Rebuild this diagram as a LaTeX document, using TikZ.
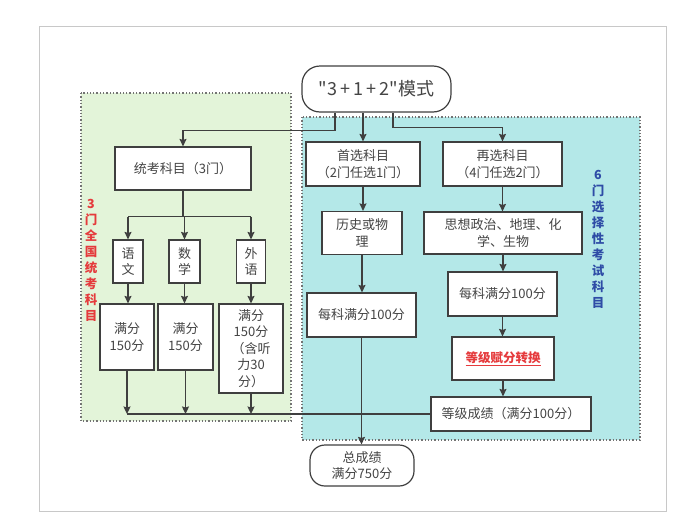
\documentclass[tikz,border=0pt]{standalone}
\usepackage{fontspec}
\setmainfont{Noto Sans CJK SC}
\newfontfamily\plainqfont{Noto Sans CJK SC}
\usetikzlibrary{arrows.meta}
\usetikzlibrary{calc}

\definecolor{linegray}{HTML}{3F3F3F}
\definecolor{txtgray}{HTML}{444444}
\definecolor{framegray}{HTML}{C8C8C8}
\definecolor{greenbg}{HTML}{E3F4D9}
\definecolor{cyanbg}{HTML}{B4E8E8}
\definecolor{redtxt}{HTML}{E53A3C}
\definecolor{bluetxt}{HTML}{2E4CA6}

\begin{document}
\begin{tikzpicture}[x=1pt, y=-1pt, >={Stealth[length=7.5pt, width=7pt, inset=1pt]},
  box/.style={draw=linegray, line width=1.2pt, fill=white, inner sep=0pt, align=center,
    text=txtgray, font=\fontsize{13}{16.5}\selectfont},
  conn/.style={draw=linegray, line width=1.3pt},
  region/.style={draw=gray!90!black, line width=1.3pt, dotted}]
\useasboundingbox (0,0) rectangle (695,525);
\draw[framegray, line width=0.9pt] (39,26) rectangle (666,511);
% the two regions
\fill[greenbg] (81,93) rectangle (291,421);
\draw[region] (81,93) rectangle (291,421);
\fill[cyanbg] (302,117) rectangle (640,440);
\draw[region] (302,117) rectangle (640,440);
\node[text=redtxt, font=\bfseries\fontsize{12.5}{16}\selectfont, align=center] (lbl3) at (91,260)
  {3\\门\\全\\国\\统\\考\\科\\目};
\node[text=bluetxt, font=\bfseries\fontsize{12.5}{16}\selectfont, align=center] (lbl6) at (598,239)
  {6\\门\\选\\择\\性\\考\\试\\科\\目};

\node[box, rounded corners=18, minimum width=149, minimum height=46,
  font=\plainqfont\fontsize{18}{20}\selectfont] (top) at (376.5,89) {"3\,+\,1\,+\,2"模式};

% three national subjects
\node[box, minimum width=136, minimum height=43] (tk) at (183,168.5) {统考科目（3门）};
\node[box, minimum width=30, minimum height=43] (yw) at (128,261.5) {语\\文};
\node[box, minimum width=31, minimum height=43] (sx) at (184.5,261.5) {数\\学};
\node[box, minimum width=29, minimum height=43] (wy) at (251,261.5) {外\\语};
\node[box, minimum width=54, minimum height=66] (man1) at (127,337) {满分\\150分};
\node[box, minimum width=55, minimum height=66] (man2) at (185.5,337) {满分\\150分};
\node[box, minimum width=64, minimum height=89] (man3) at (251,348.5) {满分\\150分\\（含听\\力30\\分）};

% selected subjects
\node[box, minimum width=114, minimum height=44] (sx1) at (363,164) {首选科目\\（2门任选1门）};
\node[box, minimum width=119, minimum height=44] (zx) at (502.5,164) {再选科目\\（4门任选2门）};
\node[box, minimum width=80, minimum height=43] (lswl) at (362,233) {历史或物\\理};
\node[box, minimum width=158, minimum height=42] (sz) at (503,233) {思想政治、地理、化\\学、生物};
\node[box, minimum width=109, minimum height=44] (mk1) at (361.5,315) {每科满分100分};
\node[box, minimum width=109, minimum height=44] (mk2) at (502.5,294) {每科满分100分};
\node[box, minimum width=102, minimum height=43, text=redtxt, font=\bfseries\fontsize{12.5}{15.5}\selectfont]
  (dj) at (503,358.5) {\underline{等级赋分转换}};
\node[box, minimum width=160, minimum height=34] (djcj) at (511,414) {等级成绩（满分100分）};
\node[box, rounded corners=15, minimum width=104, minimum height=41] (zcj) at (362,465.5) {总成绩\\满分750分};

% connectors from the top
\draw[conn, ->] ([xshift=-41.5]top.south) -- ++(0,18) -| (tk.north);
\draw[conn, ->] (sx1.north |- top.south) -- (sx1.north);
\draw[conn, ->] ([xshift=16.5]top.south) -- ++(0,15) -| (zx.north);

\draw[conn] (tk.south) -- ++(0,26) coordinate (tkb);
\draw[conn] (yw.north |- tkb) -- (wy.north |- tkb);
\foreach \n/\m in {yw/man1, sx/man2, wy/man3} {
  \draw[conn, ->] (\n.north |- tkb) -- (\n.north);
  \draw[conn, ->] (\n.south) -- (\n.south |- \m.north);
  \draw[conn, ->] (\m.south) -- (\m.south |- djcj.west);
}
\draw[conn] (djcj.west) -- (man1.south |- djcj.west);

\draw[conn, ->] (sx1.south) -- (sx1.south |- lswl.north);
\draw[conn, ->] (lswl.south) -- (lswl.south |- mk1.north);
\draw[conn, ->] (mk1.south) -- (mk1.south |- zcj.north);

\draw[conn, ->] (zx.south) -- (zx.south |- sz.north);
\draw[conn, ->] (sz.south) -- (sz.south |- mk2.north);
\draw[conn, ->] (mk2.south) -- (mk2.south |- dj.north);
\draw[conn, ->] (dj.south) -- (dj.south |- djcj.north);
\end{tikzpicture}
\end{document}
